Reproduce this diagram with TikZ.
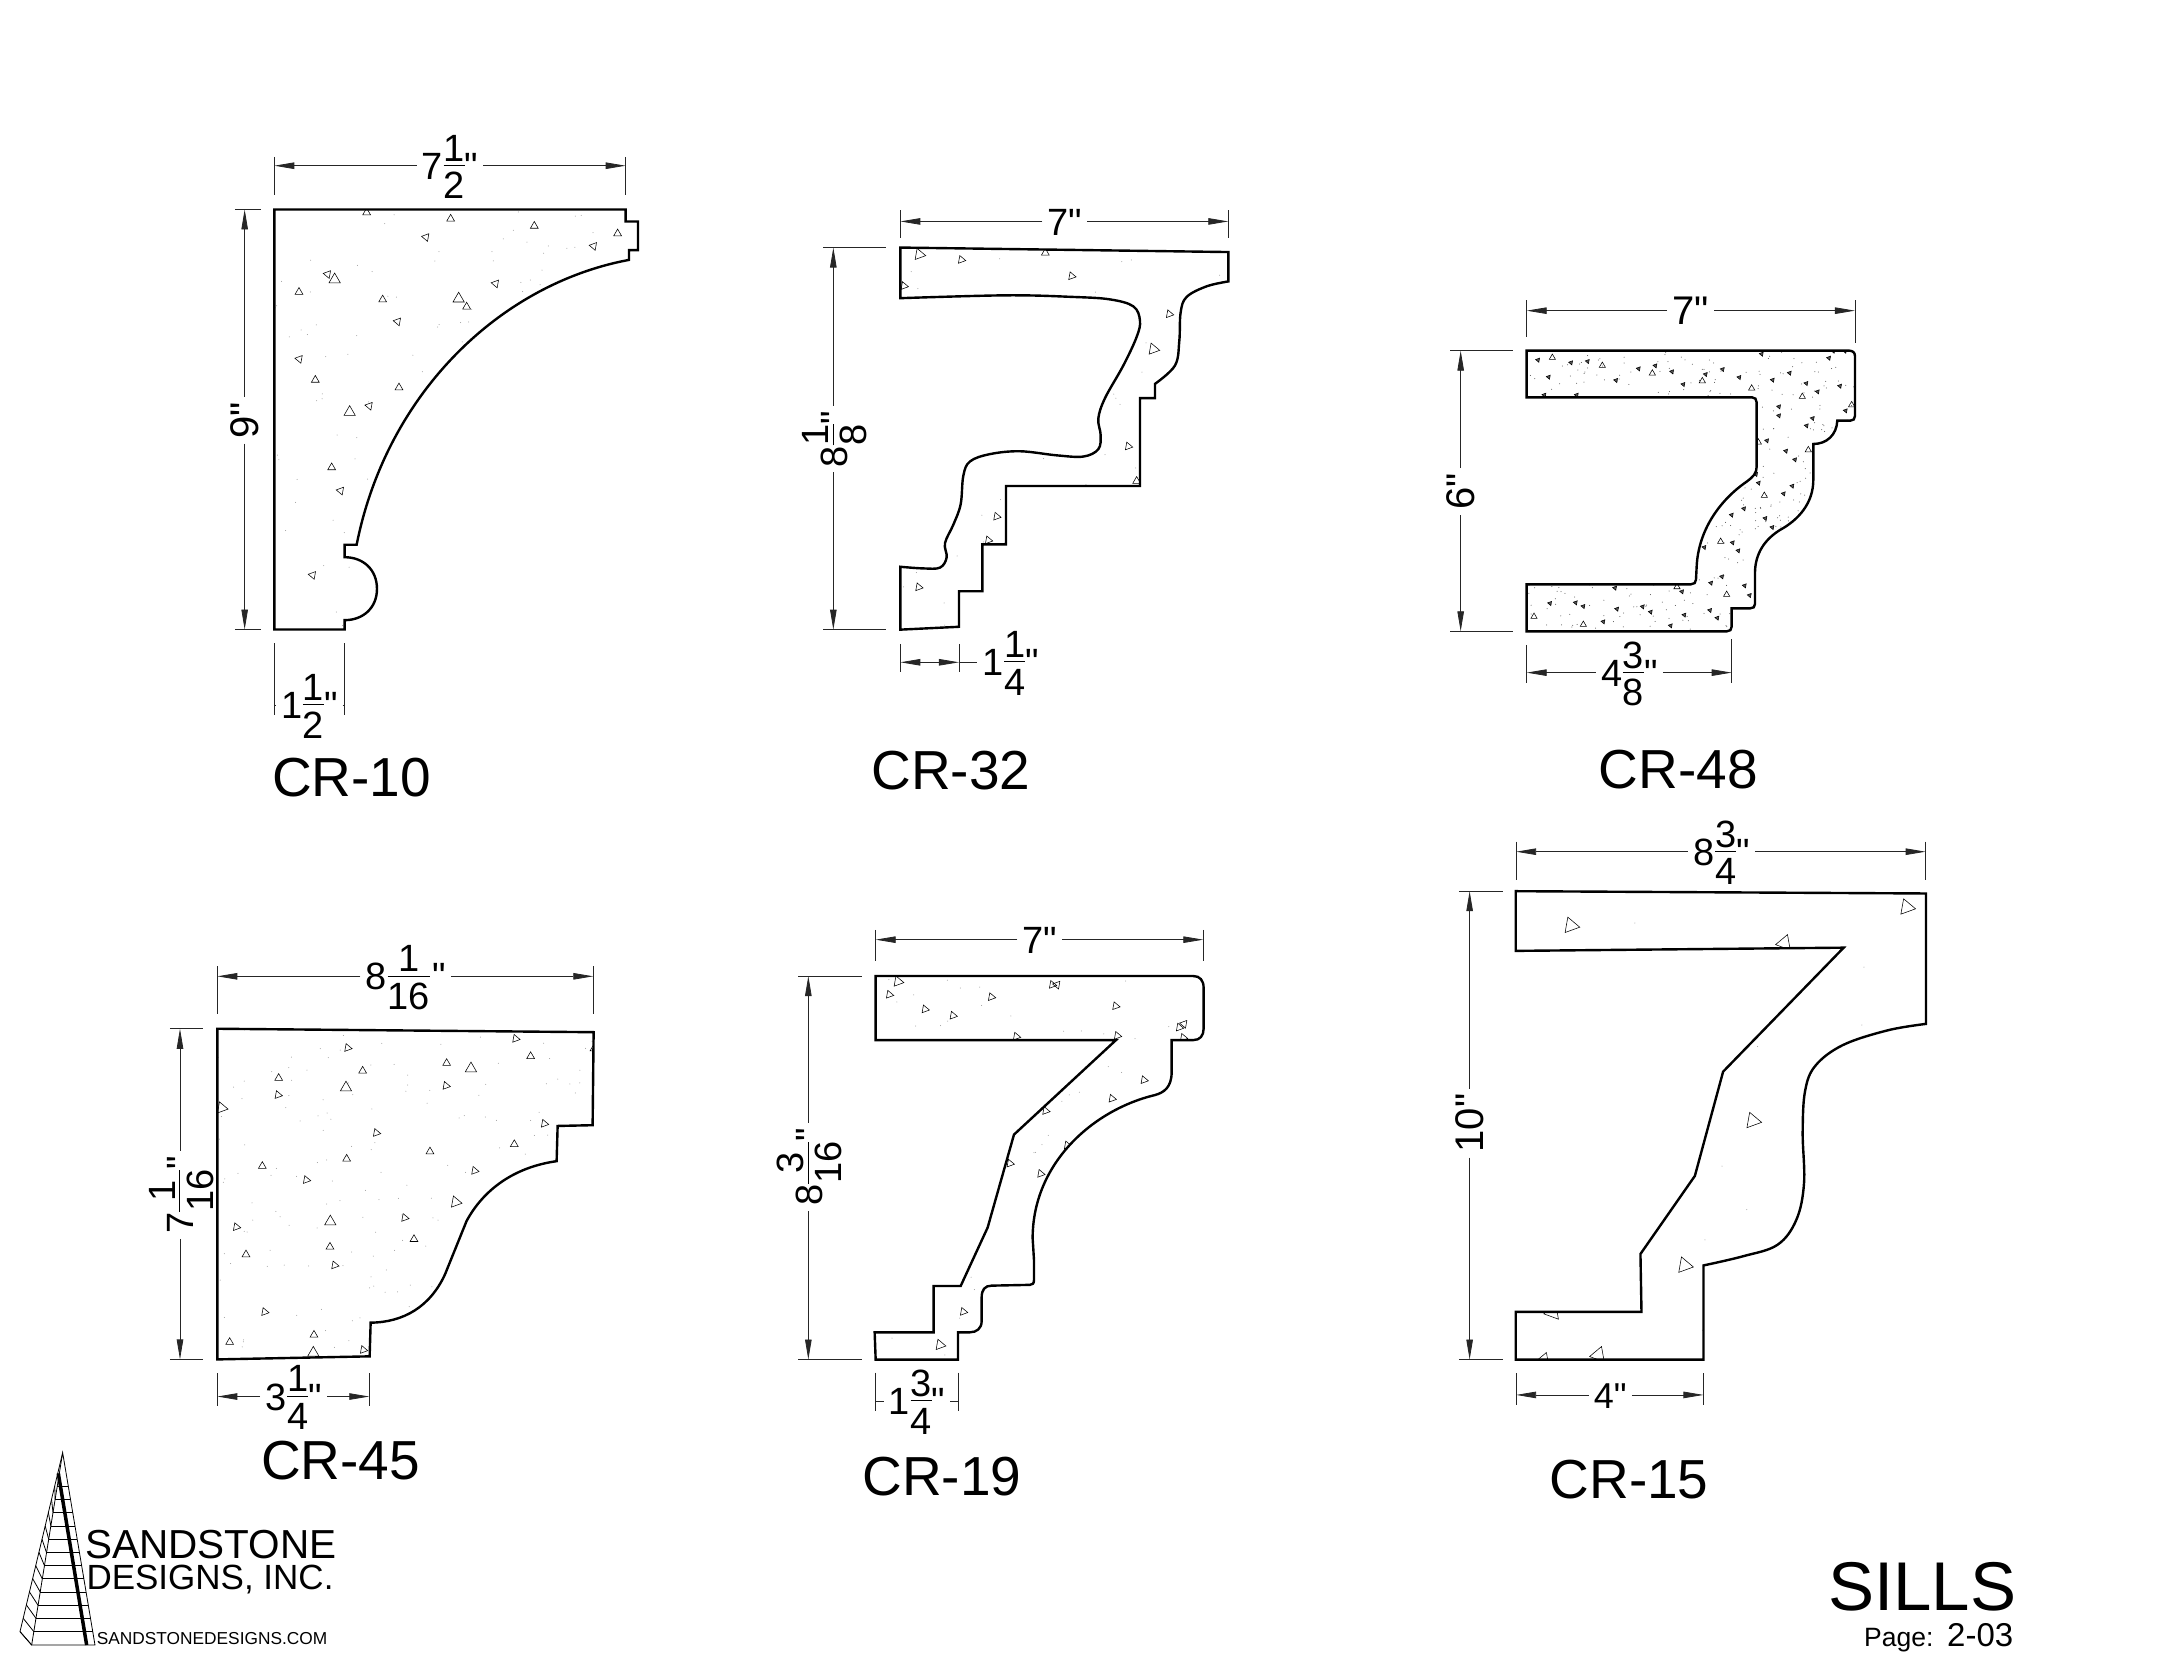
\documentclass[tikz,border=0pt]{standalone}
\usepackage{fontspec}
\setmainfont{Liberation Sans}[Ligatures=TeXOff]
\usetikzlibrary{arrows.meta}
\usetikzlibrary{calc}

\newlength\fracw
\newcommand{\frc}[3]{#1\kern.02em\setbox0\hbox{#2}\setbox2\hbox{#3}%
    \fracw=\wd0 \ifdim\wd2>\fracw \fracw=\wd2 \fi
    \rlap{\raisebox{.48em}{\hbox to\fracw{\hss\box0\hss}}}%
    \rlap{\raisebox{-.51em}{\hbox to\fracw{\hss\box2\hss}}}%
    \rlap{\rule[.36em]{\fracw}{.8pt}}\kern\fracw}
\newcommand{\lift}[1]{\smash{\raisebox{-.36em}{#1}}}

\tikzset{
    crop/.style n args={4}{x=#3pt,y=-#4pt,shift={(#1pt,-#2pt)}},
    moulding/.style={smooth,tension=.6},
    profile/.style={draw=black,line width=2.4pt,miter limit=6},
    stone/.style={draw=black,line width=.55pt},
    tinystone/.style={stone,fill=black!65},
    extline/.style={draw=black!85,line width=.8pt},
    dimstub/.style={draw=black!85,line width=.8pt},
    dimline/.style={dimstub,-{Triangle[length=20pt,width=6.5pt]}},
    dimtext/.style={inner xsep=5pt,inner ysep=0pt,font=\fontsize{38}{38}\selectfont},
    partname/.style={inner sep=0pt,font=\fontsize{55}{55}\selectfont},
    logotext/.style={inner sep=0pt,anchor=base west}
}

\newcommand{\stones}[4][stone]{\foreach \sx/\sy in {#4}
    \draw[#1,shift={(\sx,\sy)}] (#3:#2pt) -- (#3+120:#2pt) -- (#3+240:#2pt) -- cycle;}
\newcommand{\grit}[6]{\foreach \gi in {1,...,#1}
    \fill[#2] ({#3+(#4-#3)*rnd},{#5+(#6-#5)*rnd}) circle (.5pt);}

\newcommand{\hdim}[7][dimline]{%
    \coordinate (#2a) at (#3,#5);
    \coordinate (#2b) at (#4,#5);
    \node[dimtext] (#2) at (#6,#5) {\lift{#7}};
    \draw[#1] (#2.west) -- (#2a);
    \draw[#1] (#2.east) -- (#2b);}
\newcommand{\vdim}[6]{%
    \coordinate (#1a) at (#4,#2);
    \coordinate (#1b) at (#4,#3);
    \node[dimtext,rotate=90] (#1) at (#4,#5) {\lift{#6}};
    \draw[dimline] (#1.east) -- (#1a);
    \draw[dimline] (#1.west) -- (#1b);}
\newcommand{\extv}[3]{\draw[extline] (#1,#2) -- (#1,#3);}
\newcommand{\exth}[3]{\draw[extline] (#2,#1) -- (#3,#1);}

\newcommand{\crten}{(223,178) -- (1277,178) -- (1277,205) -- (1314,205) -- (1314,269) -- (1287,269) -- (1287,291)
    .. controls (900,345) and (560,590) .. (470,929)
    -- (434,929) -- (434,957)
    .. controls (490,957) and (531,985) .. (531,1028) .. controls (531,1070) and (490,1098) .. (434,1098)
    -- (434,1119) -- (223,1119) -- cycle}
\newcommand{\crthirtytwo}{(331,141) -- (1315,152)
    -- plot[moulding] coordinates {(1315,224) (1250,236) (1190,262) (1172,300) (1168,370) (1155,430) (1095,475)}
    -- (1095,510) -- (1050,510) -- (1050,725) -- (648,725) -- (648,868) -- (577,868) -- (577,983) -- (507,983) -- (507,1070) -- (331,1077)
    -- plot[moulding] coordinates {(331,923) (400,927) (450,925) (470,900) (465,865) (490,820) (512,770) (520,700) (540,665) (600,647) (690,640) (800,650) (880,653) (925,635) (932,600) (925,560) (945,510) (1000,430) (1040,360) (1050,320) (1030,285) (960,268) (850,262) (650,258) (331,265)}
    -- cycle}
\newcommand{\crfortyeight}{(260,212) -- (1228,212) .. controls (1238,212) and (1245,218) .. (1245,228) -- (1245,408) .. controls (1245,417) and (1240,422) .. (1231,422) -- (1192,422)
    .. controls (1190,465) and (1160,492) .. (1120,492) -- (1120,600)
    .. controls (1120,670) and (1075,720) .. (1020,750) .. controls (975,778) and (945,820) .. (945,880)
    -- (945,972) .. controls (945,981) and (940,985) .. (931,985) -- (875,985) -- (875,1040) .. controls (875,1049) and (870,1054) .. (861,1054) -- (260,1054) -- (260,913) -- (753,913) .. controls (762,913) and (768,908) .. (768,899)
    -- (770,860) .. controls (775,750) and (840,660) .. (920,605) .. controls (940,590) and (950,580) .. (950,560)
    -- (950,367) .. controls (950,358) and (945,352) .. (936,352) -- (260,352) -- cycle}
\newcommand{\crfortyfive}{(262,258) -- (1391,267) -- (1388,510) -- (1283,512) -- (1280,604)
    .. controls (1150,620) and (1060,680) .. (1010,760) -- (945,900) .. controls (900,985) and (820,1025) .. (722,1026)
    -- (719,1114) -- (262,1122) -- cycle}
\newcommand{\crnineteen}{(347,167) -- (1300,167) .. controls (1320,167) and (1331,178) .. (1331,197) -- (1331,300) .. controls (1331,318) and (1320,329) .. (1300,329) -- (1235,329)
    -- (1235,410) .. controls (1235,450) and (1210,462) .. (1185,468) .. controls (1000,505) and (818,640) .. (818,830)
    -- (822,885) -- (822,936) .. controls (822,944) and (818,948) .. (810,948) -- (695,950) .. controls (675,950) and (665,960) .. (665,980) -- (665,1040) .. controls (665,1058) and (650,1068) .. (630,1068)
    -- (594,1068) -- (594,1137) -- (347,1137) -- (344,1068) -- (521,1068) -- (521,951) -- (602,951) -- (683,803) -- (762,568) -- (1068,329) -- (347,329) -- cycle}
\newcommand{\crfifteen}{(220,155) -- (1411,160)
    -- plot[moulding] coordinates {(1411,444) (1300,458) (1170,490) (1090,535) (1060,590) (1053,680) (1057,790) (1035,870) (980,925) (880,950) (765,970)}
    -- (765,1175) -- (220,1175) -- (220,1071) -- (585,1071) -- (582,945) -- (740,775) -- (822,548) -- (1172,278) -- (220,285) -- cycle}

\begin{document}
\begin{tikzpicture}[x=1pt,y=-1pt]
    \useasboundingbox (0,0) rectangle (2159,1659);
    \pgfmathsetseed{2159}

    \begin{scope}[crop={200}{130}{.3333}{.4464}]
        \begin{scope}
            \clip \crten;
            \grit{130}{black!40}{223}{1300}{178}{1119}
            \stones{4.5}{170}{678/240,1181/260,383/323,593/429,887/344,298/513,508/618,422/808,338/997}
            \stones{4.5}{90}{500/185,752/199,1003/215,1253/232,297/363,548/380,800/396,346/560,597/577,395/756}
            \stones{6.5}{90}{404/335,776/378,449/632}
        \end{scope}
        \draw[profile] \crten;
        \extv{223}{60}{145}
        \extv{1277}{60}{145}
        \hdim{w10}{223}{1277}{80}{750}{\frc{7}{1}{2}"}
        \exth{178}{105}{183}
        \exth{1119}{105}{183}
        \vdim{h10}{178}{1119}{134}{650}{\fontsize{40}{40}\selectfont 9"}
        \extv{223}{1150}{1310}
        \extv{434}{1150}{1310}
        \hdim[dimstub]{b10}{223}{434}{1288}{328}{\frc{1}{1}{2}"}
        \node[partname] (cr10) at (455,1450) {CR-10};
    \end{scope}

    \begin{scope}[crop={790}{190}{.3333}{.4082}]
        \begin{scope}
            \clip \crthirtytwo;
            \grit{110}{black!40}{331}{1315}{141}{1077}
            \stones{4.5}{-10}{514/171,845/211,1138/304,1015/628,620/800,595/858,386/973,342/235}
            \stones{4.5}{90}{766/154,1040/713}
            \stones{6.5}{-10}{388/158,1090/390}
        \end{scope}
        \draw[profile] \crthirtytwo;
        \extv{331}{50}{118}
        \extv{1315}{50}{118}
        \hdim{w32}{331}{1315}{77}{825}{7"}
        \exth{141}{100}{288}
        \exth{1077}{100}{288}
        \vdim{h32}{141}{1077}{130}{610}{\frc{8}{1}{8}"}
        \extv{331}{1112}{1180}
        \extv{507}{1112}{1180}
        \coordinate (b32a) at (331,1157);
        \coordinate (b32b) at (507,1157);
        \node[dimtext] (b32) at (662,1157) {\lift{\frc{1}{1}{4}"}};
        \draw[dimstub,{Triangle[length=20pt,width=6.5pt]}-{Triangle[length=20pt,width=6.5pt]}] (b32a) -- (b32b);
        \draw[dimstub] (b32b) -- (b32.west);
        \node[partname] (cr32) at (483,1423) {CR-32};
    \end{scope}

    \begin{scope}[crop={1440}{280}{.3333}{.3333}]
        \begin{scope}
            \clip \crfortyeight;
            \grit{560}{black!70}{260}{1245}{212}{1054}
            \stones[tinystone]{2.4}{170}{294/240,393/248,443/244,326/291,528/301,596/266,646/257,696/275,730/313,797/283,848/268,898/292,998/300,1049/279,1099/310,1133/335,1200/318,1167/234,965/222,1017/380,1017/407,1118/415,1100/437,1217/392,981/482,1038/513,1065/539,1057/618,1031/641,956/609,912/686,875/705,976/715,997/742,878/788,895/812,793/802,846/890,813/909,914/917,929/946,726/935,525/924,330/970,407/968,430/979,531/987,608/980,632/996,733/1005,810/991,832/1014,692/1037,490/1025,313/345,410/345,948/583,1215/213,1180/213}
            \stones{3.6}{90}{337/233,487/257,637/280,787/303,1087/350,1105/510,973/647,842/785,860/944,711/921,430/1034,282/1010,935/325,1235/375,955/487}
        \end{scope}
        \draw[profile] \crfortyeight;
        \extv{260}{60}{170}
        \extv{1245}{60}{188}
        \hdim{w48}{260}{1245}{92}{752}{\fontsize{40}{40}\selectfont 7"}
        \exth{212}{30}{218}
        \exth{1054}{30}{218}
        \vdim{h48}{212}{1054}{62}{635}{\fontsize{40}{40}\selectfont 6"}
        \extv{260}{1095}{1208}
        \extv{875}{1078}{1208}
        \hdim{b48}{260}{875}{1178}{568}{\frc{4}{3}{8}"}
        \node[partname] (cr48) at (715,1470) {CR-48};
    \end{scope}

    \begin{scope}[crop={130}{930}{.3333}{.3827}]
        \begin{scope}
            \clip \crfortyfive;
            \grit{180}{black!40}{262}{1391}{258}{1122}
            \stones{4.5}{-10}{653/308,444/431,948/407,1157/284,1243/506,1034/629,739/530,529/653,824/752,319/776,614/876,404/998,700/1097}
            \stones{4.5}{90}{698/368,446/387,950/348,1202/330,1153/560,900/579,650/598,397/617,852/808,348/848,600/828,552/1058,299/1077,1392/310}
            \stones{6.5}{90}{648/412,1023/362,601/762,550/1105}
            \stones{6.5}{-10}{977/711,275/465}
        \end{scope}
        \draw[profile] \crfortyfive;
        \extv{262}{95}{220}
        \extv{1390}{95}{220}
        \hdim{w45}{262}{1390}{121}{827}{\frc{8}{1}{16}\kern.06em"}
        \exth{258}{120}{220}
        \exth{1122}{120}{220}
        \vdim{h45}{258}{1122}{150}{692}{\frc{7}{1}{16}"}
        \extv{262}{1158}{1245}
        \extv{718}{1158}{1245}
        \hdim{b45}{262}{718}{1219}{491}{\frc{3}{1}{4}"}
        \node[partname] (cr45) at (632,1385) {CR-45};
    \end{scope}

    \begin{scope}[crop={760}{910}{.3333}{.3954}]
        \begin{scope}
            \clip \crnineteen;
            \grit{110}{black!40}{344}{1331}{167}{1137}
            \stones{4.5}{-10}{388/214,495/251,579/267,694/220,877/189,1067/243,1072/318,769/320,1258/297,1270/323,1152/430,1056/477,857/508,922/595,750/641,842/667,610/1016}
            \stones{4.5}{170}{891/189,1272/288}
            \stones{6}{-10}{414/181,540/1100}
        \end{scope}
        \draw[profile] \crnineteen;
        \extv{347}{50}{130}
        \extv{1330}{50}{130}
        \hdim{w19}{347}{1330}{75}{840}{7"}
        \exth{167}{115}{305}
        \exth{1137}{115}{305}
        \vdim{h19}{167}{1137}{145}{650}{\frc{8}{3}{16}"}
        \extv{347}{1170}{1268}
        \extv{594}{1170}{1268}
        \hdim[dimstub]{b19}{347}{594}{1242}{471}{\frc{1}{3}{4}"}
        \node[partname] (cr19) at (546,1432) {CR-19};
    \end{scope}

    \begin{scope}[crop={1440}{820}{.3444}{.4592}]
        \begin{scope}
            \clip \crfifteen;
            \grit{25}{black!40}{220}{1411}{155}{1175}
            \stones{9}{-10}{380/230,1355/190,908/655,710/970}
            \stones{9}{70}{327/1072,1000/268,300/1178,460/1165}
        \end{scope}
        \draw[profile] \crfifteen;
        \extv{221}{47}{130}
        \extv{1410}{47}{130}
        \hdim{w15}{221}{1410}{69}{817}{\frc{8}{3}{4}"}
        \exth{155}{55}{182}
        \exth{1175}{55}{182}
        \vdim{h15}{155}{1175}{86}{660}{\fontsize{40}{40}\selectfont 10"}
        \extv{221}{1205}{1275}
        \extv{765}{1205}{1275}
        \hdim{b15}{221}{765}{1252}{494}{\fontsize{36}{36}\selectfont 4"}
        \node[partname] (cr15) at (549,1437) {CR-15};
    \end{scope}

    \begin{scope}[crop={20}{1440}{.3333}{.3333}]
        \draw[line width=.8pt] (128,38) -- (35,615) -- (225,615) -- cycle;
        \draw[line width=.8pt] (128,38) -- (0,575) -- (35,615);
        \foreach \ly in {138,178,218,258,298,337,377,416,456,495,535,575} {
            \pgfmathsetmacro{\xr}{128+(\ly-38)*.168}
            \pgfmathsetmacro{\xi}{128-(\ly-38)*.161}
            \pgfmathsetmacro{\xo}{128-(\ly-38)*.238}
            \pgfmathsetmacro{\xn}{128-(\ly+40-38)*.161}
            \draw[line width=.8pt] (\xi,\ly) -- (\xr,\ly);
            \draw[line width=.8pt] (\xo,\ly) -- (\xn,\ly+40);
        }
        \draw[line width=3.5pt] (115,100) -- (200,615);
        \node[logotext,font=\fontsize{40.5}{40.5}\selectfont] (sandstone) at (195,355) {SANDSTONE};
        \node[logotext,font=\fontsize{35}{35}\selectfont] (designs) at (199,448) {DESIGNS, INC.};
        \node[logotext,font=\fontsize{17.3}{17.3}\selectfont] (website) at (230,612) {SANDSTONEDESIGNS.COM};
    \end{scope}

    \node[logotext,font=\fontsize{69}{69}\selectfont] (sills) at (1828,1610) {SILLS};
    \node[logotext,font=\fontsize{26.5}{26.5}\selectfont] (page) at (1864,1646) {Page:};
    \node[logotext,font=\fontsize{33}{33}\selectfont] (pagenum) at (1947,1646) {2-03};
\end{tikzpicture}
\end{document}
